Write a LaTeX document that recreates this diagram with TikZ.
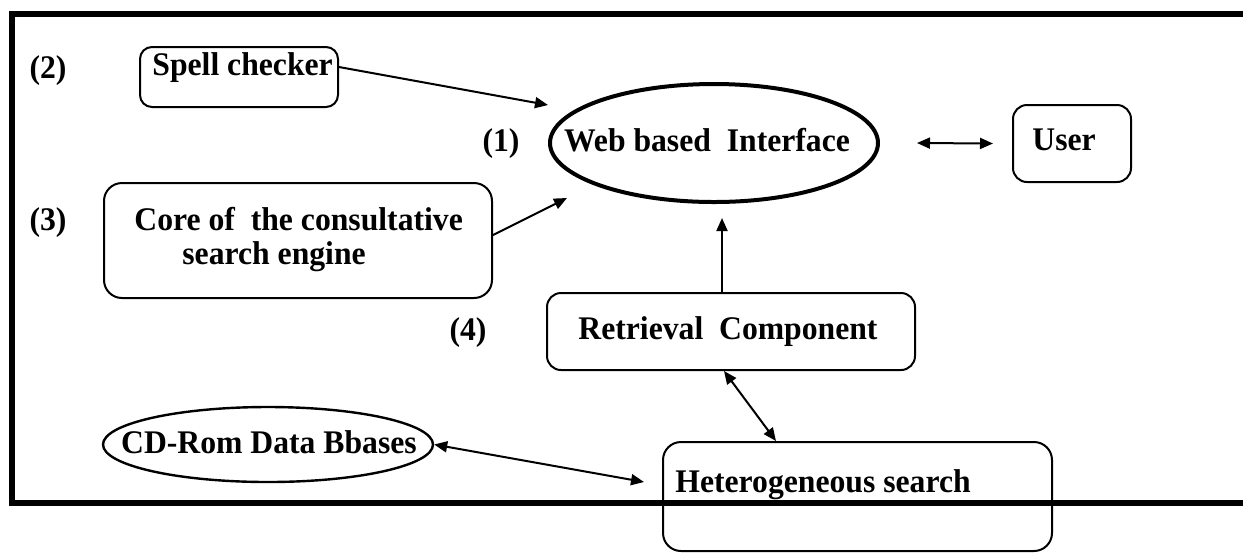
\documentclass[tikz,border=0pt]{standalone}
\usepackage{fontspec}
\setmainfont{Liberation Serif}[FakeStretch=0.96]
\usetikzlibrary{arrows.meta,shapes.geometric}

\tikzset{
  lbl/.style={font=\bfseries\fontsize{16.5}{19}\selectfont, inner sep=0pt, anchor=base},
  lblw/.style={lbl, anchor=base west},
  rbox/.style={draw, line width=1pt, rounded corners=6pt, inner sep=0pt},
  oval/.style={draw, ellipse, inner sep=0pt},
  arr/.style={line width=1pt, -{Triangle[length=6.5pt,width=5.5pt]}},
  darr/.style={line width=1pt, {Triangle[length=6.5pt,width=5.5pt]}-{Triangle[length=6.5pt,width=5.5pt]}},
  frame/.style={line width=2.6pt}
}

\begin{document}
\begin{tikzpicture}[x=0.5pt, y=-0.5pt]
\useasboundingbox (0,0) rectangle (1243,554);
\clip (0,0) rectangle (1243,554);

% outer frame, open on the right
\draw[frame] (1260,14) -| (12,503) -- (1260,503);

% boxes and ovals
\node[rbox, minimum width=99pt, minimum height=30pt] (spell) at (239,77) {};
\node[rbox, minimum width=59pt, minimum height=38.5pt, rounded corners=7pt] (user) at (1072,143.5) {};
\node[rbox, minimum width=194pt, minimum height=57.5pt, rounded corners=9pt] (core) at (298,240.5) {};
\node[rbox, minimum width=184pt, minimum height=38.5pt, rounded corners=7pt] (retr) at (731,331.5) {};
\node[rbox, minimum width=194.5pt, minimum height=54.5pt, rounded corners=9pt] (het) at (857.5,496.5) {};
\node[oval, line width=2pt, minimum width=164pt, minimum height=59pt] (web) at (714,143) {};
\node[oval, line width=1.2pt, minimum width=165pt, minimum height=37.5pt] (cd) at (268,444.5) {};

% texts
\node[lbl] (t2) at (48,78) {(2)};
\node[lbl] (t1) at (501,151) {(1)};
\node[lbl] (t3) at (48,230) {(3)};
\node[lbl] (t4) at (468,340) {(4)};
\node[lblw] (tspell) at (152,75) {Spell checker};
\node[lbl] (tweb) at (707,151) {Web based\ \ Interface};
\node[lblw] (tuser) at (1032,150) {User};
\node[lblw] (tcore1) at (134,230) {Core of\ \ the consultative};
\node[lblw] (tcore2) at (182,264) {search engine};
\node[lblw] (tretr) at (578,339) {Retrieval\ \ Component};
\node[lbl] (tcd) at (269,453) {CD-Rom Data Bbases};
\node[lblw] (thet) at (675,492) {Heterogeneous search};

% free arrow ends near the interface oval
\coordinate (wa) at (548,105);
\coordinate (wb) at (567,198);
\coordinate (wc) at (722,218);

% connectors
\draw[arr] ([yshift=5pt]spell.east) -- (wa);
\draw[arr] ([yshift=2.75pt]core.east) -- (wb);
\draw[arr] ([xshift=-4.5pt]retr.north) -- (wc);
\draw[darr] ([xshift=18.5pt]web.east) -- ([xshift=-9.5pt]user.west);
\draw[darr] ([xshift=-3.5pt]retr.south) -- ([xshift=-40.75pt]het.north);
\draw[darr] (cd.east) -- ([xshift=-9pt,yshift=7.25pt]het.west);
\end{tikzpicture}
\end{document}
